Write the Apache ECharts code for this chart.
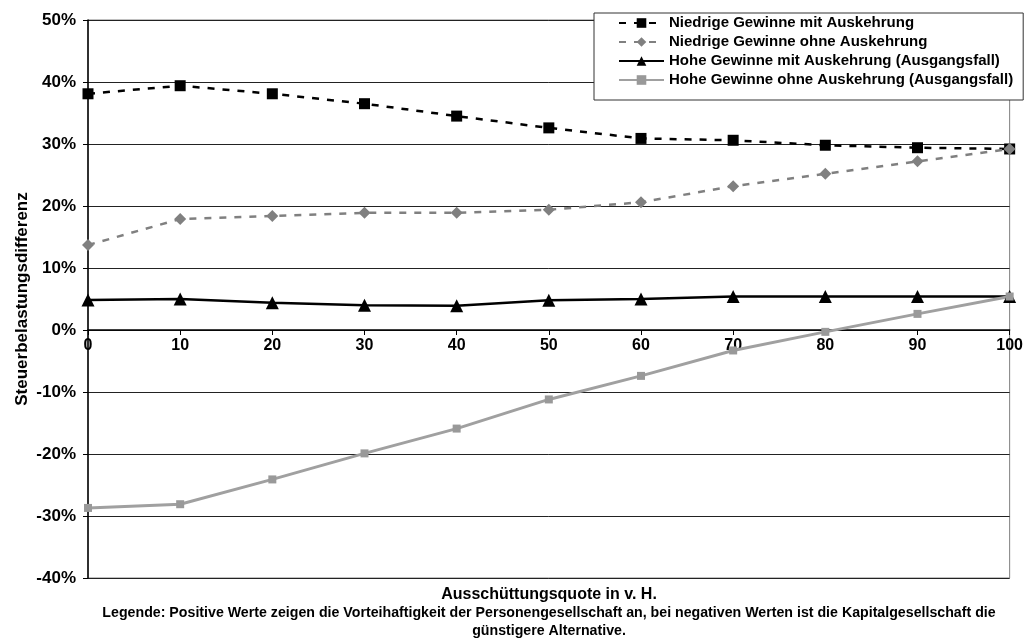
<!DOCTYPE html>
<html>
<head>
<meta charset="utf-8">
<script src="https://cdn.jsdelivr.net/npm/echarts@6/dist/echarts.min.js"></script>
<style>
  html, body { margin: 0; padding: 0; background: #fff; }
  #chart { width: 1026px; height: 640px; }
</style>
</head>
<body>
<div id="chart"></div>
<script>
// Ausschüttungsquote (x, in v. H.)
const quoten = [0, 10, 20, 30, 40, 50, 60, 70, 80, 90, 100];

// Steuerbelastungsdifferenz in %
const niedrigMit = [38.1, 39.4, 38.1, 36.5, 34.5, 32.6, 30.9, 30.6, 29.8, 29.4, 29.2];
const niedrigOhne = [13.7, 17.9, 18.4, 18.9, 18.9, 19.4, 20.6, 23.2, 25.2, 27.2, 29.2];
const hochMit = [4.85, 5.0, 4.4, 4.0, 3.9, 4.8, 5.0, 5.4, 5.4, 5.4, 5.4];
const hochOhne = [-28.7, -28.1, -24.1, -19.9, -15.9, -11.2, -7.4, -3.3, -0.3, 2.6, 5.4];

const seriesNames = [
  'Niedrige Gewinne mit Auskehrung',
  'Niedrige Gewinne ohne Auskehrung',
  'Hohe Gewinne mit Auskehrung (Ausgangsfall)',
  'Hohe Gewinne ohne Auskehrung (Ausgangsfall)'
];

const xAxisTitle = 'Ausschüttungsquote in v. H.';
const yAxisTitle = 'Steuerbelastungsdifferenz';
const captionLines = [
  'Legende: Positive Werte zeigen die Vorteihaftigkeit der Personengesellschaft an, bei negativen Werten ist die Kapitalgesellschaft die',
  'günstigere Alternative.'
];

const FONT = 'Arial, "Liberation Sans", sans-serif';
const pairs = (ys) => quoten.map((x, i) => [x, ys[i]]);

// plot box
const GRID = { left: 88, right: 16, top: 20, bottom: 62 };
const Y_MIN = -40, Y_MAX = 50;
// shift the x axis up from the bottom edge to the 0 % line
const plotH = 640 - GRID.top - GRID.bottom;
const zeroShift = -plotH * (0 - Y_MIN) / (Y_MAX - Y_MIN);

const chart = echarts.init(document.getElementById('chart'), null, { renderer: 'canvas' });

chart.setOption({
  animation: false,
  backgroundColor: '#ffffff',
  textStyle: { fontFamily: FONT },
  grid: Object.assign({
    show: true, borderColor: '#808080', borderWidth: 1, backgroundColor: 'transparent'
  }, GRID),
  legend: {
    orient: 'vertical',
    left: 594, top: 13,
    padding: [2, 10, 12, 24],
    itemGap: 3,
    itemWidth: 45,
    itemHeight: 12,
    backgroundColor: '#ffffff',
    borderColor: '#333333',
    borderWidth: 1,
    borderRadius: 0,
    textStyle: { fontFamily: FONT, fontSize: 15, fontWeight: 'bold', color: '#000', lineHeight: 16 },
    data: seriesNames
  },
  xAxis: {
    type: 'value',
    min: 0, max: 100, interval: 10,
    offset: zeroShift,
    axisLine: { onZero: false, lineStyle: { color: '#000', width: 1.5 } },
    axisTick: { show: true, length: 5, lineStyle: { color: '#000' } },
    axisLabel: {
      fontFamily: FONT, fontSize: 16, fontWeight: 'bold', color: '#000', margin: 8,
      showMinLabel: true, showMaxLabel: true
    },
    splitLine: { show: false }
  },
  yAxis: {
    type: 'value',
    min: Y_MIN, max: Y_MAX, interval: 10,
    axisLine: { show: true, onZero: false, lineStyle: { color: '#000', width: 1.5 } },
    axisTick: { show: true, length: 5, lineStyle: { color: '#000' } },
    axisLabel: {
      fontFamily: FONT, fontSize: 17, fontWeight: 'bold', color: '#000', margin: 12,
      formatter: (v) => v + '%'
    },
    splitLine: { show: true, lineStyle: { color: '#222', width: 1 } }
  },
  series: [
    {
      name: seriesNames[0], type: 'line', data: pairs(niedrigMit),
      clip: false, symbol: 'rect', symbolSize: 11,
      lineStyle: { color: '#000', width: 2.5, type: [7, 8] },
      itemStyle: { color: '#000' }
    },
    {
      name: seriesNames[1], type: 'line', data: pairs(niedrigOhne),
      clip: false, symbol: 'diamond', symbolSize: 12,
      lineStyle: { color: '#808080', width: 2.5, type: [7, 8] },
      itemStyle: { color: '#808080' }
    },
    {
      name: seriesNames[2], type: 'line', data: pairs(hochMit),
      clip: false, symbol: 'triangle', symbolSize: 13,
      lineStyle: { color: '#000', width: 2.5, type: 'solid' },
      itemStyle: { color: '#000' }
    },
    {
      name: seriesNames[3], type: 'line', data: pairs(hochOhne),
      clip: false, symbol: 'rect', symbolSize: 8,
      lineStyle: { color: '#a0a0a0', width: 3, type: 'solid' },
      itemStyle: { color: '#999999' }
    }
  ],
  graphic: [
    {
      // vertical axis title
      type: 'text', x: 22, y: 299, rotation: Math.PI / 2,
      style: {
        text: yAxisTitle, fontFamily: FONT, fontSize: 17, fontWeight: 'bold', fill: '#000',
        align: 'center', verticalAlign: 'middle'
      }
    },
    {
      type: 'text', x: 549, y: 595,
      style: {
        text: xAxisTitle, fontFamily: FONT, fontSize: 16, fontWeight: 'bold', fill: '#000',
        align: 'center', verticalAlign: 'middle'
      }
    },
    {
      type: 'text', x: 549, y: 622,
      style: {
        text: captionLines.join('\n'), fontFamily: FONT, fontSize: 14.2, fontWeight: 'bold',
        fill: '#000', align: 'center', verticalAlign: 'middle', lineHeight: 18
      }
    }
  ]
});
</script>
</body>
</html>
